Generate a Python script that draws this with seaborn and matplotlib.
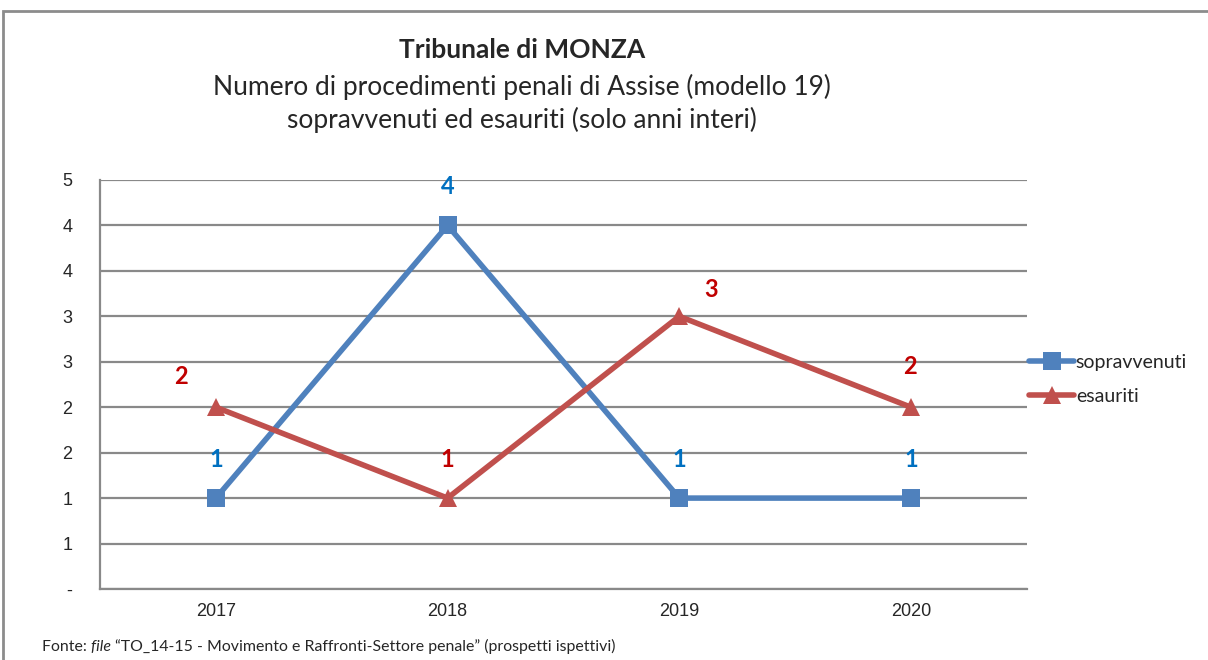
import matplotlib.pyplot as plt
import matplotlib.patches as mpatches
import pandas as pd
import seaborn as sns

years = ["2017", "2018", "2019", "2020"]
sopravvenuti = [1, 4, 1, 1]
esauriti = [2, 1, 3, 2]
y_ticks = [0, 0.5, 1, 1.5, 2, 2.5, 3, 3.5, 4, 4.5]
y_tick_labels = ["-", "1", "1", "2", "2", "3", "3", "4", "4", "5"]

BLUE = "#4F81BD"
RED = "#C0504D"
BLUE_TXT = "#0070C0"
RED_TXT = "#C00000"
GRID = "#898989"

df = pd.DataFrame({
    "pos": list(range(len(years))) * 2,
    "value": sopravvenuti + esauriti,
    "serie": ["sopravvenuti"] * len(years) + ["esauriti"] * len(years),
})

sns.set_style("white")
plt.rcParams["font.family"] = ["Liberation Sans Narrow", "Liberation Sans", "DejaVu Sans"]
lato = ["Lato", "DejaVu Sans"]

fig = plt.figure(figsize=(12.08, 6.6), dpi=100)
ax = fig.add_axes([0.0828, 0.1076, 0.7672, 0.6197])

sns.lineplot(data=df, x="pos", y="value", hue="serie", style="serie",
             palette={"sopravvenuti": BLUE, "esauriti": RED},
             markers={"sopravvenuti": "s", "esauriti": "^"},
             dashes=False, linewidth=4, markersize=13, markeredgewidth=0,
             ax=ax, legend=False)

# data labels
label_font = dict(family=lato, fontweight="bold", fontsize=17)
for i, v in enumerate(sopravvenuti):
    ax.annotate(str(v), (i, v), xytext=(0, 28), textcoords="offset points",
                ha="center", va="center", color=BLUE_TXT, **label_font)
esa_offsets = [(-25, 22), (0, 28), (23, 19), (-1, 29)]
for i, v in enumerate(esauriti):
    ax.annotate(str(v), (i, v), xytext=esa_offsets[i], textcoords="offset points",
                ha="center", va="center", color=RED_TXT, **label_font)

ax.set_xlim(-0.5, len(years) - 0.5)
ax.set_ylim(0, 4.5)
ax.set_yticks(y_ticks)
ax.set_yticklabels(y_tick_labels, fontsize=13)
ax.set_xticks(range(len(years)))
ax.set_xticklabels(years, fontsize=13)
ax.set_xticks([i + 0.5 for i in range(-1, len(years))], minor=True)
ax.tick_params(axis="x", which="major", length=0, pad=10)
ax.tick_params(axis="x", which="minor", length=6, width=1.5, color=GRID, direction="out")
ax.tick_params(axis="y", length=6, width=1.5, color=GRID, direction="out", pad=14)
ax.yaxis.grid(True, color=GRID, linewidth=1.6)
ax.xaxis.grid(False)
for side in ["top", "right"]:
    ax.spines[side].set_visible(False)
for side in ["left", "bottom"]:
    ax.spines[side].set_color(GRID)
    ax.spines[side].set_linewidth(1.6)
ax.set_xlabel("")
ax.set_ylabel("")
ax.set_axisbelow(True)

# legend
handles = [
    plt.Line2D([], [], color=BLUE, marker="s", linewidth=4, markersize=13, markeredgewidth=0),
    plt.Line2D([], [], color=RED, marker="^", linewidth=4, markersize=13, markeredgewidth=0),
]
fig.legend(handles, ["sopravvenuti", "esauriti"], loc="center left",
           bbox_to_anchor=(0.852, 0.425), frameon=False, handlelength=2.3,
           handletextpad=0.1, labelspacing=0.85, borderpad=0, borderaxespad=0,
           prop={"family": lato, "size": 14})

# titles
fig.text(0.432, 0.924, "Tribunale di MONZA", ha="center", va="center",
         fontsize=19, fontweight="bold", family=lato)
fig.text(0.432, 0.868, "Numero di procedimenti penali di Assise (modello 19)",
         ha="center", va="center", fontsize=19, family=lato)
fig.text(0.432, 0.818, "sopravvenuti ed esauriti (solo anni interi)",
         ha="center", va="center", fontsize=19, family=lato)

# source note, pieces chained one after the other
t1 = fig.text(0.035, 0.013, "Fonte: ", ha="left", va="baseline", fontsize=11.4, family=lato)
t2 = ax.annotate("file ", xy=(1, 0), xycoords=t1, va="bottom", ha="left",
                 fontsize=11.4, style="italic", family=lato)
ax.annotate("\u201cTO_14-15 - Movimento e Raffronti-Settore penale\u201d (prospetti ispettivi)",
            xy=(1, 0), xycoords=t2, va="bottom", ha="left",
            fontsize=11.4, family=lato)

# outer frame
fig.patches.append(mpatches.Rectangle((3 / 1208, -0.01), 1.0, 1 - 11 / 660 + 0.01,
                                      transform=fig.transFigure, fill=False,
                                      edgecolor="#8C8C8C", linewidth=2))

fig.savefig("out.png", dpi=100)
